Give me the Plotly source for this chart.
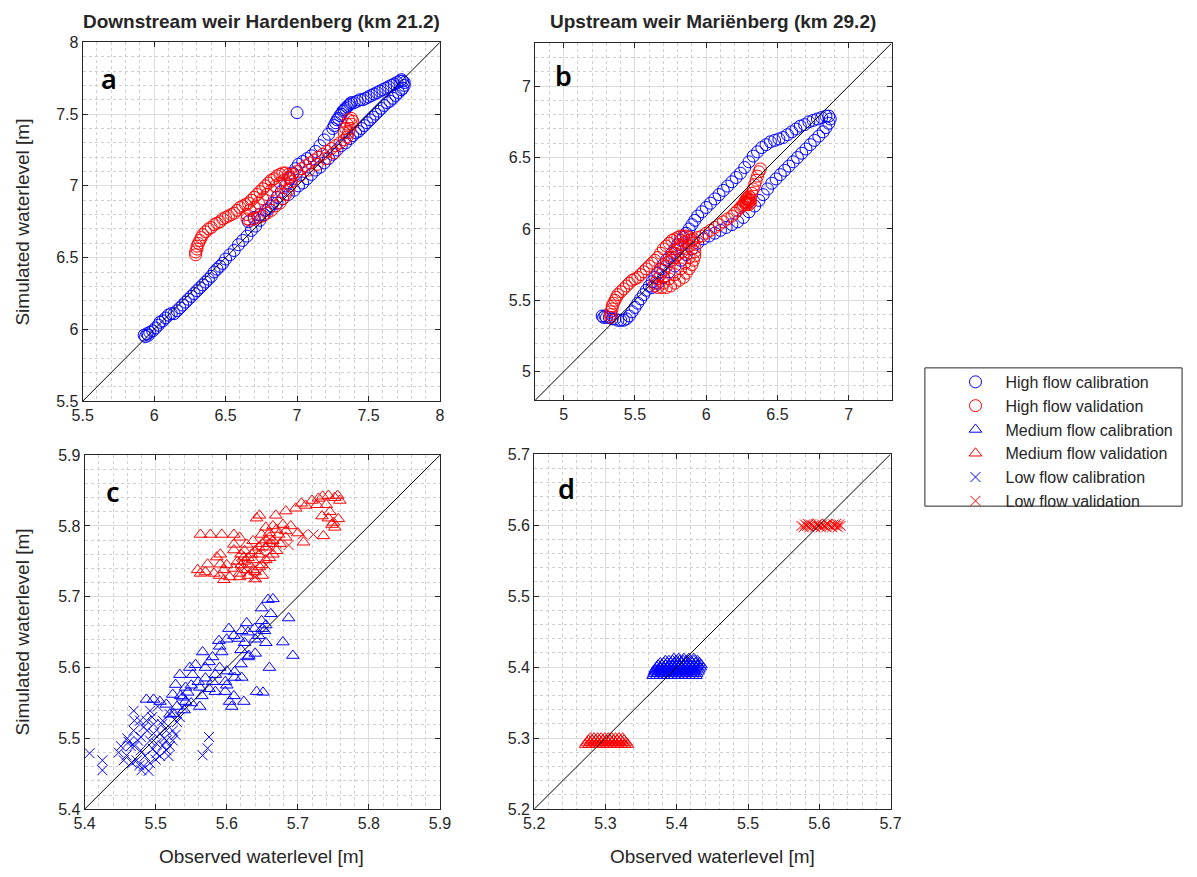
import plotly.graph_objects as go

BLUE = "rgb(0,0,255)"
RED = "rgb(255,0,0)"

# ---------------- data ----------------
titles = ["Downstream weir Hardenberg (km 21.2)", "Upstream weir Mariënberg (km 29.2)"]
panel_letters = ["a", "b", "c", "d"]
legend_names = ["High flow calibration", "High flow validation", "Medium flow calibration",
                "Medium flow validation", "Low flow calibration", "Low flow validation"]

range_a = [5.5, 8.0]
range_b = [4.8, 7.3]
range_c = [5.4, 5.9]
range_d = [5.2, 5.7]
ticks_a = [5.5, 6, 6.5, 7, 7.5, 8]
ticks_b = [5, 5.5, 6, 6.5, 7]
ticks_c = [5.4, 5.5, 5.6, 5.7, 5.8, 5.9]
ticks_d = [5.2, 5.3, 5.4, 5.5, 5.6, 5.7]

# Panel a: high flow calibration (observed, simulated)
a_high_cal = [
    (5.93, 5.96), (5.94, 5.95), (5.95, 5.97), (5.96, 5.96), (5.97, 5.98), (5.99, 5.99), (6.01, 6.01),
    (6.03, 6.03), (6.04, 6.05), (6.06, 6.06), (6.08, 6.08), (6.10, 6.10), (6.12, 6.11), (6.14, 6.11),
    (6.16, 6.13), (6.18, 6.15), (6.20, 6.17), (6.22, 6.19), (6.24, 6.21), (6.26, 6.23), (6.28, 6.25),
    (6.30, 6.27), (6.32, 6.29), (6.34, 6.31), (6.36, 6.33), (6.38, 6.35), (6.40, 6.37), (6.42, 6.40),
    (6.44, 6.42), (6.46, 6.44), (6.48, 6.46), (6.50, 6.49), (6.53, 6.52), (6.56, 6.55), (6.59, 6.59),
    (6.62, 6.62), (6.65, 6.65), (6.68, 6.69), (6.71, 6.72), (6.74, 6.76), (6.77, 6.80), (6.80, 6.84),
    (6.83, 6.88), (6.86, 6.92), (6.89, 6.96), (6.92, 7.00), (6.95, 7.05), (6.97, 7.09), (6.99, 7.12),
    (7.01, 7.15), (7.04, 7.17), (7.07, 7.19), (7.10, 7.21), (7.13, 7.24), (7.16, 7.28), (7.19, 7.32),
    (7.22, 7.36), (7.25, 7.40), (7.26, 7.42), (7.27, 7.44), (7.28, 7.46), (7.29, 7.47), (7.30, 7.49),
    (7.31, 7.50), (7.32, 7.52), (7.33, 7.53), (7.34, 7.54), (7.35, 7.55), (7.36, 7.56), (7.37, 7.57),
    (7.38, 7.58), (7.40, 7.58), (7.42, 7.59), (7.44, 7.60), (7.46, 7.60), (7.48, 7.61), (7.50, 7.62),
    (7.52, 7.63), (7.54, 7.64), (7.56, 7.65), (7.58, 7.66), (7.60, 7.67), (7.62, 7.68), (7.64, 7.69),
    (7.66, 7.70), (7.68, 7.71), (7.70, 7.72), (7.72, 7.73), (7.73, 7.74), (7.74, 7.73), (7.75, 7.72),
    (7.75, 7.70), (7.74, 7.68), (7.73, 7.67), (7.71, 7.65), (7.69, 7.63), (7.67, 7.61), (7.65, 7.59),
    (7.63, 7.58), (7.61, 7.56), (7.59, 7.54), (7.57, 7.52), (7.55, 7.50), (7.53, 7.48), (7.51, 7.46),
    (7.49, 7.44), (7.47, 7.42), (7.45, 7.40), (7.43, 7.38), (7.41, 7.37), (7.39, 7.35), (7.37, 7.33),
    (7.34, 7.30), (7.31, 7.28), (7.28, 7.25), (7.25, 7.22), (7.22, 7.19), (7.19, 7.16), (7.16, 7.13),
    (7.13, 7.11), (7.10, 7.08), (7.07, 7.05), (7.04, 7.02), (7.01, 7.00), (6.98, 6.97), (6.94, 6.94),
    (6.90, 6.91), (6.86, 6.88), (6.82, 6.86), (6.78, 6.83), (6.74, 6.80), (6.70, 6.78), (6.66, 6.75),
    (7.00, 7.51),
]
# Panel a: high flow validation
a_high_val = [
    (6.29, 6.52), (6.29, 6.54), (6.30, 6.56), (6.30, 6.58), (6.31, 6.60), (6.32, 6.62), (6.33, 6.64),
    (6.34, 6.66), (6.36, 6.68), (6.38, 6.70), (6.40, 6.71), (6.42, 6.73), (6.44, 6.74), (6.46, 6.75),
    (6.48, 6.77), (6.50, 6.78), (6.52, 6.79), (6.54, 6.80), (6.56, 6.81), (6.58, 6.83), (6.60, 6.85),
    (6.62, 6.86), (6.64, 6.87), (6.66, 6.88), (6.68, 6.90), (6.70, 6.92), (6.72, 6.94), (6.74, 6.96),
    (6.76, 6.98), (6.78, 7.00), (6.80, 7.02), (6.82, 7.04), (6.84, 7.05), (6.86, 7.07), (6.88, 7.08),
    (6.90, 7.09), (6.92, 7.09), (6.94, 7.08), (6.95, 7.06), (6.96, 7.03), (6.95, 7.00), (6.94, 6.97),
    (6.92, 6.94), (6.90, 6.91), (6.88, 6.88), (6.85, 6.86), (6.82, 6.83), (6.79, 6.81), (6.76, 6.79),
    (6.73, 6.78), (6.70, 6.77), (6.67, 6.76), (6.65, 6.77), (6.65, 6.80), (6.67, 6.83), (6.70, 6.85),
    (6.73, 6.88), (6.76, 6.91), (6.79, 6.94), (6.82, 6.97), (6.85, 7.00), (6.88, 7.02), (6.91, 7.04),
    (6.94, 7.06), (6.97, 7.08), (7.00, 7.10), (7.03, 7.12), (7.06, 7.14), (7.09, 7.16), (7.12, 7.18),
    (7.15, 7.20), (7.18, 7.22), (7.21, 7.24), (7.24, 7.26), (7.27, 7.28), (7.30, 7.30), (7.33, 7.32),
    (7.35, 7.34), (7.36, 7.37), (7.37, 7.40), (7.38, 7.43), (7.39, 7.45), (7.38, 7.47), (7.36, 7.46),
    (7.35, 7.43), (7.34, 7.40), (7.33, 7.37), (7.02, 7.07), (7.08, 7.11), (7.14, 7.15), (7.20, 7.19),
    (7.26, 7.23),
]
# Panel b: high flow calibration
b_high_cal = [
    (5.27, 5.39), (5.28, 5.38), (5.29, 5.39), (5.30, 5.38), (5.32, 5.38), (5.34, 5.37), (5.36, 5.37),
    (5.38, 5.36), (5.40, 5.36), (5.42, 5.36), (5.44, 5.37), (5.46, 5.39), (5.48, 5.42), (5.50, 5.45),
    (5.52, 5.48), (5.54, 5.51), (5.56, 5.54), (5.58, 5.57), (5.60, 5.60), (5.62, 5.63), (5.64, 5.66),
    (5.66, 5.69), (5.68, 5.72), (5.70, 5.75), (5.72, 5.78), (5.74, 5.80), (5.76, 5.83), (5.78, 5.86),
    (5.80, 5.89), (5.82, 5.92), (5.84, 5.94), (5.86, 5.97), (5.88, 6.00), (5.90, 6.03), (5.92, 6.06),
    (5.94, 6.09), (5.97, 6.12), (6.00, 6.15), (6.03, 6.18), (6.06, 6.21), (6.09, 6.24), (6.12, 6.27),
    (6.15, 6.30), (6.18, 6.33), (6.21, 6.36), (6.24, 6.39), (6.27, 6.43), (6.30, 6.47), (6.33, 6.51),
    (6.36, 6.54), (6.39, 6.57), (6.42, 6.59), (6.45, 6.61), (6.48, 6.62), (6.51, 6.63), (6.54, 6.64),
    (6.57, 6.66), (6.60, 6.68), (6.63, 6.70), (6.66, 6.72), (6.69, 6.73), (6.72, 6.75), (6.75, 6.76),
    (6.78, 6.77), (6.81, 6.78), (6.84, 6.79), (6.86, 6.79), (6.87, 6.77), (6.86, 6.74), (6.84, 6.71),
    (6.82, 6.68), (6.79, 6.65), (6.76, 6.62), (6.73, 6.59), (6.70, 6.56), (6.67, 6.53), (6.64, 6.50),
    (6.61, 6.47), (6.58, 6.44), (6.55, 6.41), (6.52, 6.38), (6.49, 6.35), (6.46, 6.32), (6.43, 6.28),
    (6.40, 6.24), (6.37, 6.20), (6.34, 6.16), (6.30, 6.12), (6.26, 6.08), (6.22, 6.05), (6.18, 6.03),
    (6.14, 6.01), (6.10, 5.99), (6.06, 5.97), (6.02, 5.95), (5.98, 5.93), (5.94, 5.90), (5.90, 5.86),
    (5.86, 5.82), (5.82, 5.78), (5.78, 5.74), (5.74, 5.70), (5.70, 5.66), (5.66, 5.62), (5.62, 5.59),
]
# Panel b: high flow validation
b_high_val = [
    (5.33, 5.38), (5.33, 5.40), (5.33, 5.42), (5.34, 5.44), (5.34, 5.46), (5.35, 5.48), (5.36, 5.50),
    (5.37, 5.52), (5.38, 5.54), (5.40, 5.56), (5.42, 5.58), (5.44, 5.60), (5.46, 5.62), (5.48, 5.64),
    (5.50, 5.65), (5.52, 5.66), (5.54, 5.68), (5.56, 5.70), (5.58, 5.72), (5.60, 5.74), (5.62, 5.76),
    (5.64, 5.78), (5.66, 5.80), (5.68, 5.83), (5.70, 5.86), (5.72, 5.88), (5.74, 5.90), (5.76, 5.92),
    (5.78, 5.93), (5.80, 5.94), (5.82, 5.95), (5.84, 5.95), (5.86, 5.95), (5.88, 5.94), (5.90, 5.92),
    (5.91, 5.90), (5.92, 5.87), (5.92, 5.84), (5.92, 5.81), (5.91, 5.78), (5.90, 5.75), (5.88, 5.72),
    (5.86, 5.69), (5.84, 5.66), (5.81, 5.64), (5.78, 5.62), (5.75, 5.60), (5.72, 5.59), (5.69, 5.59),
    (5.66, 5.59), (5.64, 5.60), (5.64, 5.62), (5.66, 5.65), (5.68, 5.68), (5.70, 5.71), (5.72, 5.74),
    (5.74, 5.77), (5.76, 5.80), (5.78, 5.83), (5.80, 5.86), (5.82, 5.89), (5.85, 5.91), (5.88, 5.92),
    (5.91, 5.93), (5.94, 5.94), (5.97, 5.95), (6.00, 5.97), (6.03, 5.99), (6.06, 6.01), (6.09, 6.03),
    (6.12, 6.05), (6.15, 6.07), (6.18, 6.09), (6.20, 6.11), (6.22, 6.13), (6.24, 6.15), (6.25, 6.16),
    (6.26, 6.17), (6.27, 6.18), (6.28, 6.19), (6.29, 6.20), (6.30, 6.21), (6.30, 6.19), (6.29, 6.18),
    (6.27, 6.19), (6.28, 6.21), (6.29, 6.22), (6.30, 6.23), (6.31, 6.20), (6.31, 6.18), (6.30, 6.17),
    (6.28, 6.17), (6.31, 6.22), (6.32, 6.25), (6.33, 6.28), (6.34, 6.31), (6.35, 6.34), (6.36, 6.37),
    (6.37, 6.40), (6.38, 6.42), (5.76, 5.78), (5.78, 5.80), (5.80, 5.82), (5.83, 5.84), (5.86, 5.86),
    (5.88, 5.88), (5.70, 5.62), (5.74, 5.65), (5.78, 5.68), (5.82, 5.72), (5.85, 5.76), (5.88, 5.80),
]
# Panel c: medium flow calibration
c_med_cal = [
    (5.658, 5.696), (5.665, 5.697), (5.649, 5.684), (5.662, 5.676), (5.687, 5.670), (5.628, 5.663),
    (5.649, 5.666), (5.603, 5.655), (5.621, 5.652), (5.639, 5.655), (5.653, 5.652), (5.679, 5.636),
    (5.589, 5.638), (5.617, 5.641), (5.566, 5.622), (5.593, 5.622), (5.631, 5.617), (5.693, 5.617),
    (5.660, 5.600), (5.556, 5.604), (5.575, 5.608), (5.611, 5.594), (5.584, 5.590), (5.552, 5.590),
    (5.528, 5.576), (5.542, 5.572), (5.562, 5.572), (5.598, 5.580), (5.611, 5.586), (5.621, 5.586),
    (5.584, 5.566), (5.598, 5.566), (5.642, 5.566), (5.651, 5.565), (5.624, 5.552), (5.604, 5.552),
    (5.607, 5.545), (5.562, 5.545), (5.538, 5.558), (5.524, 5.562), (5.515, 5.548), (5.487, 5.555),
    (5.497, 5.555), (5.506, 5.552), (5.520, 5.534), (5.542, 5.552), (5.534, 5.590), (5.548, 5.600),
    (5.570, 5.600), (5.580, 5.615), (5.590, 5.630), (5.600, 5.640), (5.610, 5.645), (5.630, 5.650),
    (5.640, 5.640), (5.650, 5.655), (5.655, 5.660), (5.640, 5.620), (5.630, 5.615), (5.620, 5.605),
    (5.600, 5.595), (5.590, 5.600), (5.570, 5.585), (5.560, 5.580), (5.550, 5.575), (5.545, 5.565),
    (5.535, 5.560), (5.530, 5.545), (5.525, 5.535), (5.540, 5.540), (5.550, 5.550), (5.565, 5.560),
    (5.575, 5.570), (5.580, 5.580), (5.620, 5.625), (5.625, 5.635), (5.645, 5.645), (5.655, 5.635),
    (5.600, 5.575), (5.610, 5.560),
]
# Panel c: low flow calibration
c_low_cal = [
    (5.407, 5.479), (5.425, 5.469), (5.425, 5.455), (5.469, 5.539), (5.492, 5.539), (5.451, 5.489),
    (5.459, 5.476), (5.473, 5.469), (5.490, 5.454), (5.483, 5.461), (5.492, 5.465), (5.506, 5.475),
    (5.515, 5.483), (5.501, 5.493), (5.492, 5.497), (5.479, 5.502), (5.469, 5.511), (5.483, 5.516),
    (5.497, 5.520), (5.510, 5.525), (5.520, 5.534), (5.506, 5.507), (5.515, 5.511), (5.524, 5.511),
    (5.515, 5.497), (5.501, 5.479), (5.479, 5.483), (5.465, 5.489), (5.455, 5.469), (5.467, 5.465),
    (5.477, 5.462), (5.520, 5.489), (5.487, 5.525), (5.478, 5.525), (5.470, 5.525), (5.496, 5.485),
    (5.510, 5.490), (5.524, 5.497), (5.530, 5.523), (5.538, 5.544), (5.534, 5.530), (5.566, 5.476),
    (5.573, 5.486), (5.575, 5.502), (5.509, 5.520), (5.497, 5.507), (5.488, 5.511), (5.475, 5.497),
    (5.462, 5.495), (5.470, 5.489), (5.485, 5.475), (5.500, 5.470), (5.512, 5.500), (5.480, 5.455),
    (5.448, 5.480), (5.460, 5.500), (5.528, 5.505), (5.518, 5.475), (5.495, 5.530), (5.503, 5.545),
]
# Panel c: medium flow validation
c_med_val = [
    (5.563, 5.788), (5.577, 5.788), (5.593, 5.788), (5.610, 5.788), (5.618, 5.784), (5.559, 5.738),
    (5.563, 5.733), (5.573, 5.746), (5.586, 5.756), (5.591, 5.760), (5.582, 5.733), (5.596, 5.738),
    (5.604, 5.728), (5.618, 5.733), (5.628, 5.738), (5.637, 5.752), (5.646, 5.760), (5.655, 5.770),
    (5.665, 5.779), (5.673, 5.788), (5.683, 5.793), (5.679, 5.802), (5.628, 5.774), (5.637, 5.779),
    (5.610, 5.766), (5.624, 5.756), (5.631, 5.746), (5.637, 5.738), (5.646, 5.742), (5.655, 5.752),
    (5.665, 5.760), (5.649, 5.788), (5.655, 5.798), (5.642, 5.811), (5.646, 5.815), (5.618, 5.728),
    (5.596, 5.724), (5.660, 5.784), (5.669, 5.815), (5.683, 5.821), (5.697, 5.825), (5.711, 5.829),
    (5.705, 5.832), (5.720, 5.836), (5.729, 5.839), (5.743, 5.843), (5.756, 5.843), (5.759, 5.836),
    (5.734, 5.814), (5.743, 5.811), (5.748, 5.802), (5.752, 5.798), (5.736, 5.786), (5.708, 5.777),
    (5.683, 5.784), (5.591, 5.746), (5.610, 5.774), (5.620, 5.745), (5.625, 5.750), (5.630, 5.755),
    (5.635, 5.760), (5.640, 5.765), (5.645, 5.770), (5.650, 5.775), (5.655, 5.780), (5.660, 5.775),
    (5.620, 5.760), (5.615, 5.750), (5.630, 5.730), (5.640, 5.735), (5.650, 5.745), (5.660, 5.755),
    (5.670, 5.765), (5.675, 5.775), (5.670, 5.795), (5.660, 5.790), (5.625, 5.765), (5.610, 5.740),
    (5.600, 5.745), (5.640, 5.725), (5.650, 5.730), (5.590, 5.730), (5.570, 5.735), (5.665, 5.800),
    (5.690, 5.800), (5.700, 5.790), (5.745, 5.820), (5.740, 5.830), (5.727, 5.830), (5.735, 5.842),
    (5.752, 5.840), (5.757, 5.810), (5.750, 5.805),
]
# Panel c: low flow validation
c_low_val = [
    (5.707, 5.788), (5.722, 5.788), (5.687, 5.773), (5.630, 5.735), (5.640, 5.728), (5.655, 5.745),
    (5.620, 5.745), (5.645, 5.765), (5.670, 5.775), (5.660, 5.770),
]
# Panel d: medium flow calibration, observed values grouped by simulated level
d_med_cal_rows = {
    5.388: [5.367, 5.372, 5.377, 5.382, 5.387, 5.392, 5.397, 5.402, 5.407, 5.412, 5.417, 5.422, 5.427],
    5.391: [5.368, 5.373, 5.378, 5.383, 5.388, 5.393, 5.398, 5.403, 5.408, 5.413, 5.418, 5.423, 5.428],
    5.394: [5.369, 5.374, 5.379, 5.384, 5.389, 5.394, 5.399, 5.404, 5.409, 5.414, 5.419, 5.424, 5.430],
    5.397: [5.370, 5.375, 5.380, 5.385, 5.390, 5.395, 5.400, 5.405, 5.410, 5.415, 5.420, 5.425, 5.431],
    5.400: [5.372, 5.377, 5.382, 5.387, 5.392, 5.397, 5.402, 5.407, 5.412, 5.417, 5.422, 5.427, 5.433],
    5.403: [5.374, 5.379, 5.384, 5.389, 5.394, 5.399, 5.404, 5.409, 5.414, 5.419, 5.424, 5.429, 5.434],
    5.406: [5.377, 5.382, 5.387, 5.392, 5.397, 5.402, 5.407, 5.412, 5.417, 5.422, 5.427, 5.432],
    5.409: [5.384, 5.389, 5.394, 5.399, 5.404, 5.409, 5.414, 5.419, 5.424, 5.429],
    5.412: [5.396, 5.403, 5.410, 5.417, 5.424],
}
# Panel d: medium flow validation
d_med_val_rows = {
    5.291: [5.272, 5.277, 5.282, 5.287, 5.292, 5.297, 5.302, 5.307, 5.312, 5.317, 5.322, 5.327, 5.331],
    5.294: [5.274, 5.279, 5.284, 5.289, 5.294, 5.299, 5.304, 5.309, 5.314, 5.319, 5.324, 5.329],
    5.297: [5.276, 5.281, 5.286, 5.291, 5.296, 5.301, 5.306, 5.311, 5.316, 5.321, 5.326],
    5.300: [5.279, 5.284, 5.289, 5.294, 5.299, 5.304, 5.309, 5.314, 5.319, 5.324],
}
# Panel d: low flow validation
d_low_val_rows = {
    5.597: [5.578, 5.586, 5.594, 5.602, 5.610, 5.618, 5.626],
    5.599: [5.575, 5.583, 5.591, 5.599, 5.607, 5.615, 5.623, 5.630],
    5.601: [5.580, 5.588, 5.596, 5.604, 5.612, 5.620, 5.628],
    5.602: [5.584, 5.598, 5.611, 5.624],
}


def from_rows(rows):
    return [(x, y) for y, xs_ in rows.items() for x in xs_]


d_med_cal = from_rows(d_med_cal_rows)
d_med_val = from_rows(d_med_val_rows)
d_low_val = from_rows(d_low_val_rows)


def xs(pts):
    return [p[0] for p in pts]


def ys(pts):
    return [p[1] for p in pts]


CIRCLE = dict(symbol="circle-open", size=12, line=dict(width=1))
TRI = dict(symbol="triangle-up-open", size=11, line=dict(width=1))
CROSS = dict(symbol="x-thin-open", size=10, line=dict(width=1))

fig = go.Figure()

# legend-only entries
legend_styles = [(CIRCLE, BLUE), (CIRCLE, RED), (TRI, BLUE), (TRI, RED), (CROSS, BLUE), (CROSS, RED)]
for name, (m, col) in zip(legend_names, legend_styles):
    fig.add_trace(go.Scatter(x=[None], y=[None], mode="markers", name=name,
                             marker=dict(m, color=col), showlegend=True))


def add(pts, m, col, ax):
    fig.add_trace(go.Scatter(x=xs(pts), y=ys(pts), mode="markers", marker=dict(m, color=col),
                             xaxis="x" + ax, yaxis="y" + ax, showlegend=False, hoverinfo="skip"))


add(a_high_cal, CIRCLE, BLUE, "")
add(a_high_val, CIRCLE, RED, "")
add(b_high_cal, CIRCLE, BLUE, "2")
add(b_high_val, CIRCLE, RED, "2")
add(c_low_cal, CROSS, BLUE, "3")
add(c_med_cal, TRI, BLUE, "3")
add(c_med_val, TRI, RED, "3")
add(c_low_val, CROSS, RED, "3")
add(d_med_cal, TRI, BLUE, "4")
add(d_med_val, TRI, RED, "4")
add(d_low_val, CROSS, RED, "4")

# 1:1 lines from the axis ranges
for rng, ax in [(range_a, ""), (range_b, "2"), (range_c, "3"), (range_d, "4")]:
    fig.add_trace(go.Scatter(x=rng, y=rng, mode="lines", line=dict(color="black", width=1),
                             xaxis="x" + ax, yaxis="y" + ax, showlegend=False, hoverinfo="skip"))

W, H = 1197, 877
FONT = "Liberation Sans, Arial, sans-serif"
TICKFONT = dict(family=FONT, size=16, color="#262626")


def axis(rng, ticks, dom, anchor, minor_step):
    return dict(range=rng, tickvals=ticks, domain=dom, anchor=anchor, showline=True, mirror="ticks",
                linecolor="#262626", linewidth=1, ticks="inside", ticklen=5, tickcolor="#262626",
                showgrid=True, gridcolor="#dcdcdc", gridwidth=1, zeroline=False, tickfont=TICKFONT,
                minor=dict(dtick=minor_step, showgrid=True, gridcolor="#cfcfcf", griddash="dot",
                           gridwidth=1),
                fixedrange=True)


def px_x(a, b):
    return [a / W, b / W]


def px_y(top, bottom):
    return [1 - bottom / H, 1 - top / H]


fig.update_layout(
    width=W, height=H, margin=dict(l=0, r=0, t=0, b=0),
    paper_bgcolor="white", plot_bgcolor="white",
    xaxis=axis(range_a, ticks_a, px_x(73, 437), "y", 0.1),
    yaxis=axis(range_a, ticks_a, px_y(35, 401), "x", 0.1),
    xaxis2=axis(range_b, ticks_b, px_x(534, 897), "y2", 0.1),
    yaxis2=axis(range_b, ticks_b, px_y(36, 400), "x2", 0.1),
    xaxis3=axis(range_c, ticks_c, px_x(75, 437), "y3", 0.02),
    yaxis3=axis(range_c, ticks_c, px_y(456, 817), "x3", 0.02),
    xaxis4=axis(range_d, ticks_d, px_x(533, 896), "y4", 0.02),
    yaxis4=axis(range_d, ticks_d, px_y(455, 817), "x4", 0.02),
    showlegend=True,
    legend=dict(x=952 / W, y=1 - 364 / H, xanchor="left", yanchor="top", bgcolor="rgba(0,0,0,0)",
                borderwidth=0, itemwidth=50,
                font=dict(family=FONT, size=16, color="#262626"),
                tracegroupgap=0),
)

fig.add_shape(type="rect", xref="paper", yref="paper", x0=931 / W, x1=1193 / W,
              y0=1 - 508 / H, y1=1 - 367 / H, line=dict(color="#262626", width=1))

ann = []
for t, cx in zip(titles, [255, 715]):
    ann.append(dict(text="<b>" + t + "</b>", x=cx / W, y=1 - 14 / H, xref="paper", yref="paper",
                    showarrow=False, xanchor="center", yanchor="middle",
                    font=dict(family=FONT, size=19, color="#262626")))
for letter, (lx, ly) in zip(panel_letters, [(100, 72), (563, 69), (104, 493), (566, 490)]):
    ann.append(dict(text=letter, x=lx / W, y=1 - ly / H, xref="paper", yref="paper", showarrow=False,
                    xanchor="center", yanchor="middle",
                    font=dict(family="Noto Sans, sans-serif", size=27, color="black", weight=600)))
for cy in [218, 636]:
    ann.append(dict(text="Simulated waterlevel [m]", x=12 / W, y=1 - cy / H, xref="paper", yref="paper",
                    showarrow=False, textangle=-90, xanchor="center", yanchor="middle",
                    font=dict(family=FONT, size=19, color="#262626")))
for cx in [255, 715]:
    ann.append(dict(text="Observed waterlevel [m]", x=cx / W, y=1 - 865 / H, xref="paper", yref="paper",
                    showarrow=False, xanchor="center", yanchor="middle",
                    font=dict(family=FONT, size=19, color="#262626")))
fig.update_layout(annotations=ann)

fig.write_html("out.html")
